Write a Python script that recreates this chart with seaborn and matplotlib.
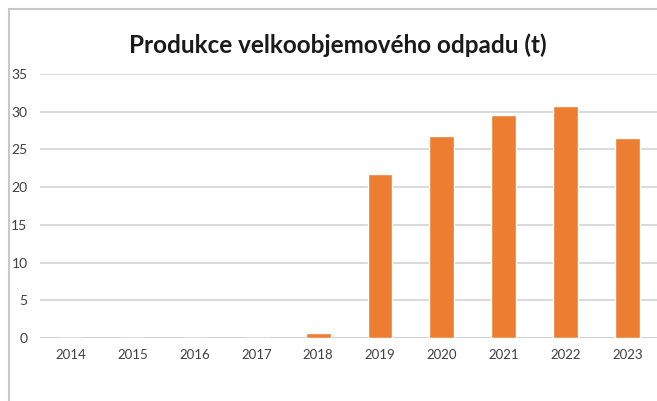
import matplotlib
matplotlib.use("Agg")
import matplotlib.pyplot as plt
import seaborn as sns
import pandas as pd
from matplotlib.lines import Line2D

# data
years = ["2014", "2015", "2016", "2017", "2018", "2019", "2020", "2021", "2022", "2023"]
tons = [0, 0, 0, 0, 0.7, 21.7, 26.8, 29.6, 30.8, 26.5]
yticks = [0, 5, 10, 15, 20, 25, 30, 35]

df = pd.DataFrame({"rok": years, "t": tons})

sns.set_style("white")
plt.rcParams["font.family"] = ["Lato", "DejaVu Sans"]

fig = plt.figure(figsize=(6.57, 4.01), dpi=100)
ax = fig.add_axes([40 / 657, 63 / 401, 617 / 657, 264 / 401])

sns.barplot(data=df, x="rok", y="t", color="#ED7D31", saturation=1, width=0.4, ax=ax, zorder=3)

ax.set_ylim(0, 35)
ax.set_yticks(yticks)
ax.set_xlim(-0.5, 9.48)
ax.grid(axis="y", color="#d9d9d9", linewidth=1.4, zorder=0)
ax.set_axisbelow(True)
for s in ax.spines.values():
    s.set_visible(False)
ax.axhline(0, color="#d0d0d0", linewidth=1.4, zorder=1)
ax.set_xlabel("")
ax.set_ylabel("")
ax.tick_params(axis="y", length=0, pad=9, labelsize=10, labelcolor="#404040")
ax.tick_params(axis="x", length=0, pad=8, labelsize=9.5, labelcolor="#404040")

fig.text(338 / 657, 1 - 45 / 401, "Produkce velkoobjemového odpadu (t)",
         ha="center", va="center", fontsize=17.5, fontweight="bold", color="#1a1a1a")

# chart frame (cropped screenshot)
fig.add_artist(Line2D([9 / 657, 9 / 657], [0, 1 - 9 / 401], transform=fig.transFigure,
                      color="#c8c8c8", linewidth=1.5))
fig.add_artist(Line2D([9 / 657, 1], [1 - 9 / 401, 1 - 9 / 401], transform=fig.transFigure,
                      color="#c8c8c8", linewidth=1.5))

fig.savefig("out.png", dpi=100)
